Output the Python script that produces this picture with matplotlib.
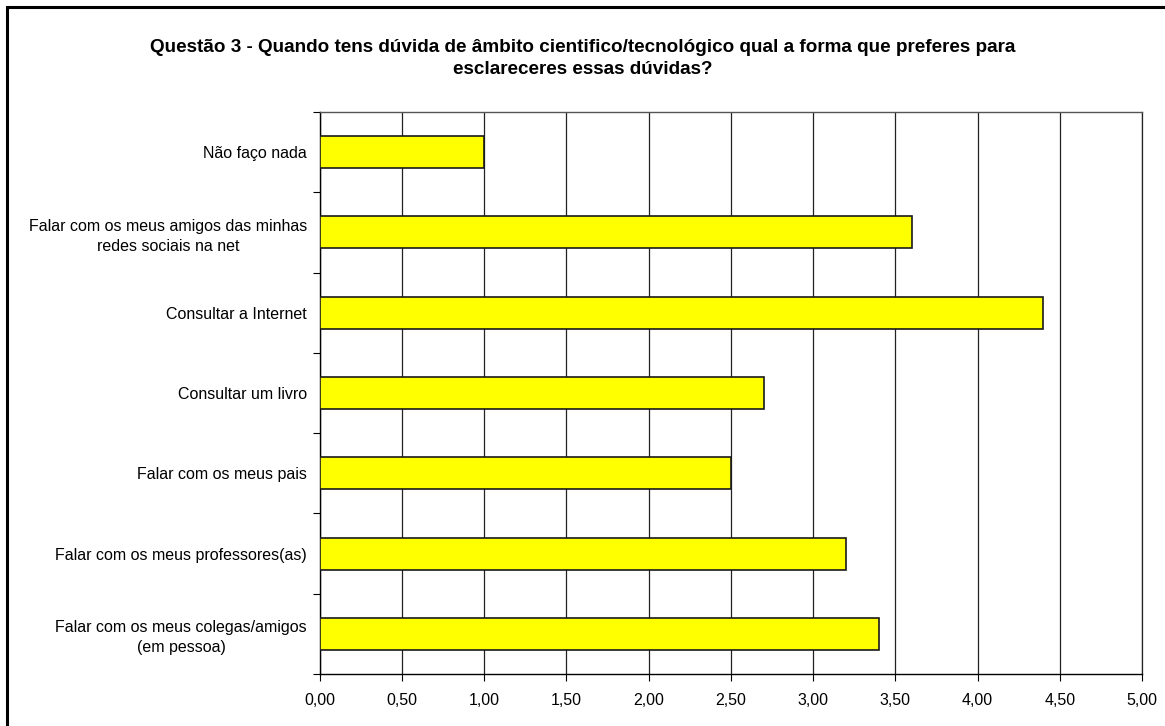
import matplotlib
matplotlib.use("Agg")
import matplotlib.pyplot as plt
import numpy as np
from matplotlib.patches import Rectangle

plt.rcParams['font.family'] = ['Liberation Sans', 'DejaVu Sans']

categories = [
    "Não faço nada",
    "Falar com os meus amigos das minhas\nredes sociais na net",
    "Consultar a Internet",
    "Consultar um livro",
    "Falar com os meus pais",
    "Falar com os meus professores(as)",
    "Falar com os meus colegas/amigos\n(em pessoa)",
]
values = [1.0, 3.6, 4.4, 2.7, 2.5, 3.2, 3.4]
xticks = [0, 0.5, 1.0, 1.5, 2.0, 2.5, 3.0, 3.5, 4.0, 4.5, 5.0]
title = ("Questão 3 - Quando tens dúvida de âmbito cientifico/tecnológico qual a forma que preferes para\n"
         "esclareceres essas dúvidas?")

fig = plt.figure(figsize=(11.65, 7.26), dpi=100)
ax = fig.add_axes([319.5/1165, 1-674/726, (1142-319.5)/1165, (674-112)/726])

n = len(categories)
ypos = np.arange(n)
ax.barh(ypos, values, height=0.4, color='#FFFF00', edgecolor='#1a1a1a', linewidth=1.2, zorder=3)
ax.set_ylim(n - 0.5, -0.5)
ax.set_xlim(0, 5)

ax.set_yticks(ypos)
ax.set_yticklabels(categories, fontsize=11.5, ha='right', multialignment='center')
for lbl in ax.get_yticklabels():
    lbl.set_linespacing(1.4)
ax.tick_params(axis='y', which='major', length=0, pad=9)
ax.set_yticks(np.arange(-0.5, n, 1.0), minor=True)
ax.tick_params(axis='y', which='minor', length=5, width=0.8, color='black', direction='out')

ax.set_xticks(xticks)
ax.set_xticklabels([f"{t:.2f}".replace('.', ',') for t in xticks], fontsize=11.5)
ax.tick_params(axis='x', length=5, width=0.8, direction='out', pad=9)

ax.grid(axis='x', color='#222222', linewidth=0.9, zorder=0)
ax.set_axisbelow(True)

for s in ['left', 'bottom']:
    ax.spines[s].set_color('black')
    ax.spines[s].set_linewidth(1.0)
ax.spines['top'].set_color('#555555')
ax.spines['top'].set_linewidth(1.0)
ax.spines['right'].set_color('#222222')
ax.spines['right'].set_linewidth(0.9)

fig.text(0.5, 1-58.5/726, title, ha='center', va='center', fontsize=13.6, fontweight='bold',
         linespacing=1.35)

fig.patches.append(Rectangle((7/1165, -0.05), 1.2, 1-7/726+0.05, transform=fig.transFigure,
                             fill=False, edgecolor='black', linewidth=2.2))

fig.savefig("out.png", dpi=100)
